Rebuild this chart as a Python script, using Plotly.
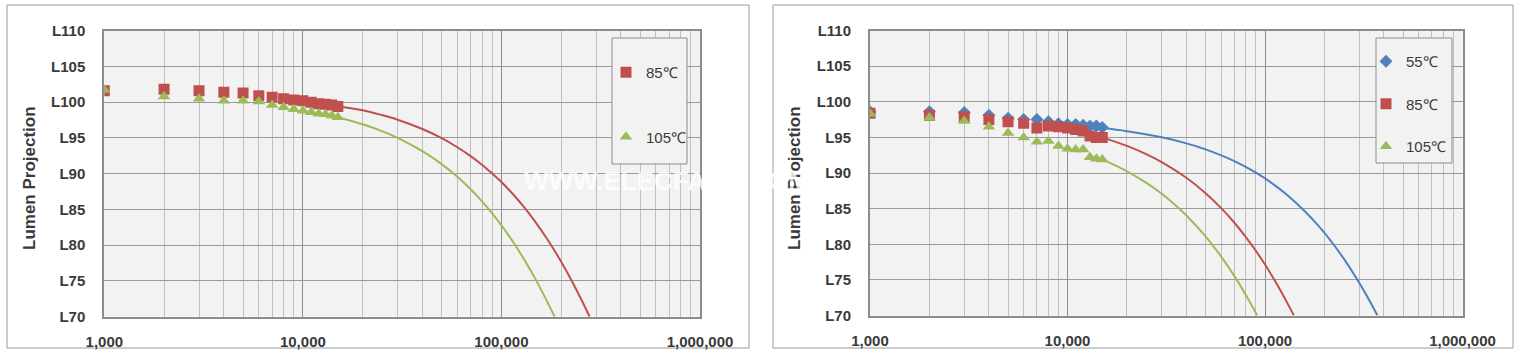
import plotly.graph_objects as go

# ---------------- data ----------------
hours = [1000, 2000, 3000, 4000, 5000, 6000, 7000, 8000, 9000, 10000,
         11000, 12000, 13000, 14000, 15000]

# left chart measured points
left_85 = [101.6, 101.8, 101.6, 101.4, 101.3, 100.9, 100.7, 100.5, 100.3, 100.2,
           100.0, 99.8, 99.7, 99.6, 99.4]
left_105 = [101.7, 100.8, 100.5, 100.2, 100.2, 100.1, 99.6, 99.3, 99.0, 98.8,
            98.6, 98.4, 98.3, 98.1, 97.9]

# left chart projection curves
left_85_proj_t = [15000, 20000, 25000, 30000, 40000, 50000, 60000, 70000, 80000,
                  90000, 100000, 115000, 130000, 150000, 170000, 190000, 210000,
                  230000, 250000, 278000]
left_85_proj_v = [99.4, 98.87, 98.2, 97.55, 96.25, 94.97, 93.7, 92.46, 91.23,
                  90.01, 88.85, 87.05, 85.31, 83.06, 80.86, 78.72, 76.64,
                  74.62, 72.64, 70.0]
left_105_proj_t = [15000, 20000, 25000, 30000, 40000, 50000, 60000, 70000, 80000,
                   90000, 100000, 115000, 130000, 150000, 170000, 185300]
left_105_proj_v = [97.9, 96.91, 95.96, 95.02, 93.16, 91.34, 89.56, 87.82, 86.1,
                   84.42, 82.78, 80.37, 78.03, 75.01, 72.11, 70.0]

# right chart measured points
right_55 = [98.6, 98.6, 98.5, 98.1, 97.7, 97.5, 97.5, 97.2, 96.9, 96.8,
            96.8, 96.7, 96.6, 96.6, 96.4]
right_85 = [98.4, 98.1, 97.9, 97.5, 97.2, 97.0, 96.3, 96.6, 96.5, 96.3,
            96.1, 95.9, 95.2, 95.0, 95.0]
right_105 = [98.3, 97.8, 97.3, 96.5, 95.6, 95.0, 94.4, 94.5, 93.8, 93.4,
             93.3, 93.3, 92.2, 92.0, 91.9]

# right chart projection curves
right_55_proj_t = [15000, 20000, 30000, 40000, 50000, 70000, 90000, 110000, 130000,
                   160000, 190000, 220000, 250000, 280000, 310000, 340000, 371000]
right_55_proj_v = [96.3, 95.87, 95.01, 94.16, 93.32, 91.67, 90.04, 88.44, 86.87,
                   84.56, 82.32, 80.14, 78.01, 75.94, 73.93, 71.97, 70.0]
right_85_proj_t = [15000, 20000, 25000, 30000, 40000, 50000, 60000, 70000, 80000,
                   90000, 100000, 110000, 120000, 130000, 140000]
right_85_proj_v = [95.0, 93.8, 92.66, 91.54, 89.33, 87.17, 85.07, 83.02, 81.01,
                   79.06, 77.15, 75.29, 73.47, 71.7, 70.0]
right_105_proj_t = [15000, 20000, 25000, 30000, 35000, 40000, 50000, 60000, 70000,
                    80000, 91400]
right_105_proj_v = [91.9, 90.24, 88.65, 87.09, 85.55, 84.04, 81.1, 78.26, 75.53,
                    72.88, 70.0]

x_tickvals = [1000, 10000, 100000, 1000000]
x_ticktext = ["1,000", "10,000", "100,000", "1,000,000"]
y_tickvals = [70, 75, 80, 85, 90, 95, 100, 105, 110]
y_ticktext = ["L70", "L75", "L80", "L85", "L90", "L95", "L100", "L105", "L110"]

# ---------------- styling ----------------
W, H = 1531, 361
BLUE, RED, GREEN = "#4F81BD", "#C0504D", "#9BBB59"
PLOT_BG = "#F2F2F2"
TXT = "#3a3a3a"
FONT = "Liberation Sans"


def px_x(p):
    return p / W


def px_y(p):
    return 1 - p / H


fig = go.Figure()

line_kw = dict(width=2, shape="spline", smoothing=1.0)

# ---- left chart ----
fig.add_trace(go.Scatter(x=left_85_proj_t, y=left_85_proj_v, mode="lines",
                         line=dict(color=RED, **line_kw),
                         showlegend=False, xaxis="x", yaxis="y", hoverinfo="skip"))
fig.add_trace(go.Scatter(x=left_105_proj_t, y=left_105_proj_v, mode="lines",
                         line=dict(color=GREEN, **line_kw),
                         showlegend=False, xaxis="x", yaxis="y", hoverinfo="skip"))
fig.add_trace(go.Scatter(x=hours, y=left_85, mode="markers", name="85℃",
                         marker=dict(symbol="square", size=11, color=RED),
                         xaxis="x", yaxis="y", legend="legend", legendgroup="l85"))
fig.add_trace(go.Scatter(x=hours, y=left_105, mode="markers", name="105℃",
                         marker=dict(symbol="triangle-up", size=11, color=GREEN),
                         xaxis="x", yaxis="y", legend="legend", legendgroup="l105"))

# ---- right chart ----
fig.add_trace(go.Scatter(x=right_55_proj_t, y=right_55_proj_v, mode="lines",
                         line=dict(color=BLUE, **line_kw),
                         showlegend=False, xaxis="x2", yaxis="y2", hoverinfo="skip"))
fig.add_trace(go.Scatter(x=right_85_proj_t, y=right_85_proj_v, mode="lines",
                         line=dict(color=RED, **line_kw),
                         showlegend=False, xaxis="x2", yaxis="y2", hoverinfo="skip"))
fig.add_trace(go.Scatter(x=right_105_proj_t, y=right_105_proj_v, mode="lines",
                         line=dict(color=GREEN, **line_kw),
                         showlegend=False, xaxis="x2", yaxis="y2", hoverinfo="skip"))
fig.add_trace(go.Scatter(x=hours, y=right_55, mode="markers", name="55℃",
                         marker=dict(symbol="diamond", size=10, color=BLUE),
                         xaxis="x2", yaxis="y2", legend="legend2", legendgroup="r55"))
fig.add_trace(go.Scatter(x=hours, y=right_85, mode="markers", name="85℃",
                         marker=dict(symbol="square", size=11, color=RED),
                         xaxis="x2", yaxis="y2", legend="legend2", legendgroup="r85"))
fig.add_trace(go.Scatter(x=hours, y=right_105, mode="markers", name="105℃",
                         marker=dict(symbol="triangle-up", size=11, color=GREEN),
                         xaxis="x2", yaxis="y2", legend="legend2", legendgroup="r105"))


def xaxis_style(dom, anchor):
    return dict(type="log", range=[3, 6], domain=dom, anchor=anchor,
                tickvals=x_tickvals, ticktext=x_ticktext,
                showgrid=True, gridcolor="#8C8C8C", gridwidth=1,
                minor=dict(dtick="D1", showgrid=True, gridcolor="#BFBFBF", gridwidth=1),
                showline=True, mirror=True, linecolor="#8C8C8C", linewidth=2,
                ticks="", ticklabelstandoff=10, zeroline=False, automargin=False,
                tickfont=dict(family=FONT, size=15, color=TXT, weight="bold"),
                fixedrange=True)


def yaxis_style(dom, anchor):
    return dict(range=[70, 110], domain=dom, anchor=anchor,
                tickvals=y_tickvals, ticktext=y_ticktext,
                showgrid=True, gridcolor="#9A9A9A", gridwidth=1,
                showline=True, mirror=True, linecolor="#8C8C8C", linewidth=2,
                ticks="", ticklabelstandoff=14, zeroline=False, automargin=False,
                tickfont=dict(family=FONT, size=15, color=TXT, weight="bold"),
                fixedrange=True)


ydom_l = [px_y(316.7), px_y(30.7)]
ydom_r = [px_y(315.5), px_y(30.5)]

legend_common = dict(bgcolor="rgba(0,0,0,0)", borderwidth=0,
                     font=dict(family=FONT, size=15, color=TXT),
                     xanchor="left", yanchor="top", traceorder="grouped",
                     itemwidth=30)

fig.update_layout(
    width=W, height=H,
    margin=dict(l=0, r=0, t=0, b=0),
    paper_bgcolor="white",
    plot_bgcolor=PLOT_BG,
    xaxis=xaxis_style([px_x(104.3), px_x(700)], "y"),
    yaxis=yaxis_style(ydom_l, "x"),
    xaxis2=xaxis_style([px_x(870), px_x(1462.5)], "y2"),
    yaxis2=yaxis_style(ydom_r, "x2"),
    legend=dict(x=px_x(606), y=px_y(56), tracegroupgap=42, **legend_common),
    legend2=dict(x=px_x(1366), y=px_y(45), tracegroupgap=20, **legend_common),
    showlegend=True,
    shapes=[
        dict(type="rect", xref="paper", yref="paper",
             x0=px_x(7), x1=px_x(749), y0=px_y(348), y1=px_y(5),
             line=dict(color="#9A9A9A", width=1), layer="below"),
        dict(type="rect", xref="paper", yref="paper",
             x0=px_x(773), x1=px_x(1513), y0=px_y(348), y1=px_y(5),
             line=dict(color="#9A9A9A", width=1), layer="below"),
        # legend boxes
        dict(type="rect", xref="paper", yref="paper",
             x0=px_x(612), x1=px_x(687), y0=px_y(164), y1=px_y(38),
             fillcolor=PLOT_BG, line=dict(color="#8C8C8C", width=1), layer="above"),
        dict(type="rect", xref="paper", yref="paper",
             x0=px_x(1376), x1=px_x(1452), y0=px_y(163), y1=px_y(38),
             fillcolor=PLOT_BG, line=dict(color="#8C8C8C", width=1), layer="above"),
    ],
    annotations=[
        dict(text="Lumen Projection", xref="paper", yref="paper",
             x=px_x(30), y=px_y(178), textangle=-90, showarrow=False,
             font=dict(family=FONT, size=17, color=TXT, weight="bold"),
             xanchor="center", yanchor="middle"),
        dict(text="Lumen Projection", xref="paper", yref="paper",
             x=px_x(795), y=px_y(178), textangle=-90, showarrow=False,
             font=dict(family=FONT, size=17, color=TXT, weight="bold"),
             xanchor="center", yanchor="middle"),
        dict(text="WWW.ELECFANS.COM", xref="paper", yref="paper",
             x=px_x(812), y=px_y(181), showarrow=False, opacity=0.8,
             font=dict(family=FONT, size=26, color="white", weight="bold"),
             xanchor="right", yanchor="middle"),
    ],
)

fig.write_html("out.html", config={"displayModeBar": False},
               post_script="document.body.style.margin='0px';")
